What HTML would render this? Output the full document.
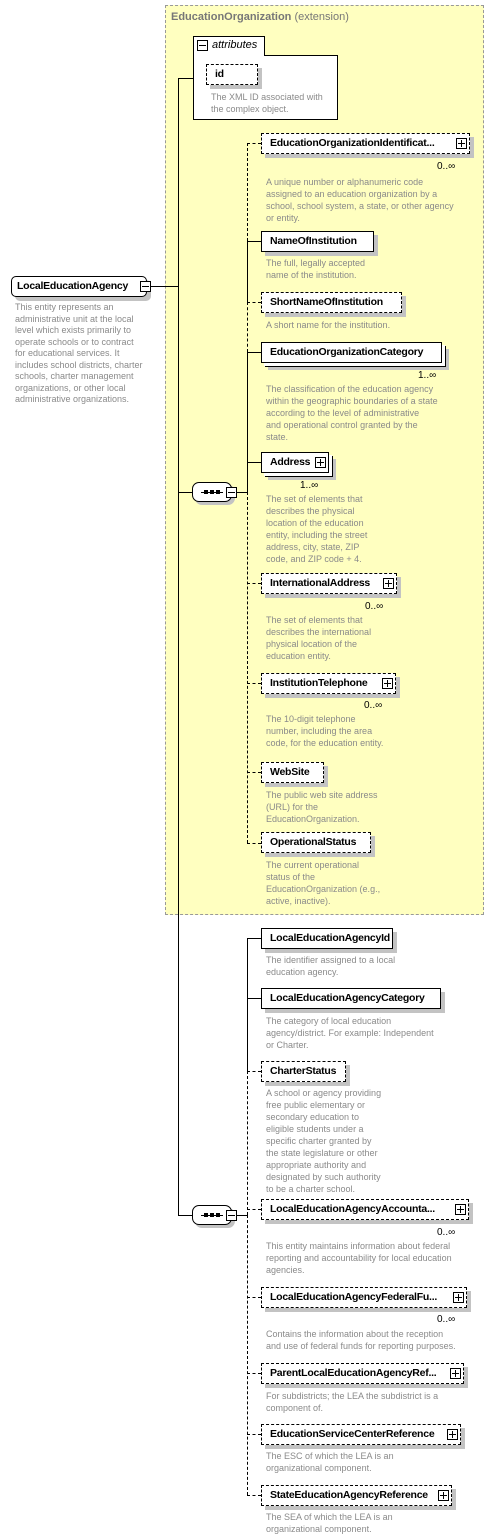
<!DOCTYPE html>
<html><head><meta charset="utf-8"><style>
*{margin:0;padding:0;box-sizing:border-box}
body{width:494px;height:1539px;background:#fff;position:relative;overflow:hidden;font-family:"Liberation Sans",sans-serif}
.a{position:absolute}
.el{position:absolute;height:21px;border:1px solid #000;background:#fff;box-shadow:4px 4px 0 #c3c3c3;font-size:10.5px;letter-spacing:-0.25px;font-weight:bold;line-height:19px;padding-left:8px;white-space:nowrap;color:#000}
.d{border-style:dashed}
.pl{position:absolute;right:2px;top:4px;width:11px;height:11px;border:1px solid #000;background:#fff}
.pl:before{content:"";position:absolute;left:1px;top:4px;width:7px;height:1px;background:#000}
.pl:after{content:"";position:absolute;left:4px;top:1px;width:1px;height:7px;background:#000}
.mi{position:absolute;width:11px;height:11px;border:1px solid #000;background:#fff}
.mi:before{content:"";position:absolute;left:1px;top:4px;width:7px;height:1px;background:#000}
.ds{position:absolute;font-size:9px;line-height:12px;color:#8a8a8a;white-space:nowrap}
.h{position:absolute;height:0;border-top:1px solid #000}
.hd{border-top-style:dashed}
.v{position:absolute;width:0;border-left:1px solid #000}
.vd{border-left-style:dashed}
.oc{position:absolute;font-size:10px;color:#000}
.seq{position:absolute;width:40px;height:20px;background:#fff;border:1px solid #000;border-radius:7px;box-shadow:3px 3px 0 #c3c3c3}
.seq i{position:absolute;left:8px;top:9px;width:22px;height:1px;background:#000}
.seq b{position:absolute;top:7px;width:4px;height:4px;background:#000}
</style></head><body>
<div class="a" style="left:165px;top:5px;width:319px;height:910px;background:#ffffc0;border:1px dashed #999"></div>
<div class="a" style="left:171px;top:11px;font-size:11px;color:#777"><b>EducationOrganization</b> (extension)</div>
<div class="a" style="left:193px;top:55px;width:145px;height:65px;border:1px solid #000;background:#fff"></div>
<div class="a" style="left:193px;top:36px;width:72px;height:20px;border:1px solid #000;border-bottom:none;background:#fff"></div>
<div class="mi" style="left:197px;top:40px"></div>
<div class="a" style="left:212px;top:39px;font-size:11px;font-style:italic">attributes</div>
<div class="el d" style="left:206px;top:64px;width:52px">id</div>
<div class="ds" style="left:211px;top:91px">The XML ID associated with<br>the complex object.</div>
<div class="el" style="left:11px;top:276px;width:136px;border-radius:5px;padding-left:5px">LocalEducationAgency</div>
<div class="mi" style="left:140px;top:281px"></div>
<div class="ds" style="left:15px;top:302px;line-height:11.5px">This entity represents an<br>administrative unit at the local<br>level which exists primarily to<br>operate schools or to contract<br>for educational services. It<br>includes school districts, charter<br>schools, charter management<br>organizations, or other local<br>administrative organizations.</div>
<div class="h" style="left:151px;top:286px;width:28px"></div>
<div class="v" style="left:178px;top:78px;height:1138px"></div>
<div class="h" style="left:178px;top:78px;width:15px"></div>
<div class="h" style="left:178px;top:492px;width:14px"></div>
<div class="h" style="left:178px;top:1215px;width:14px"></div>
<div class="seq" style="left:192px;top:482px"><i></i><b style="left:11px"></b><b style="left:17px"></b><b style="left:23px"></b></div>
<div class="mi" style="left:226px;top:487px"></div>
<div class="h" style="left:237px;top:492px;width:10px"></div>
<div class="seq" style="left:192px;top:1205px"><i></i><b style="left:11px"></b><b style="left:17px"></b><b style="left:23px"></b></div>
<div class="mi" style="left:226px;top:1210px"></div>
<div class="h" style="left:237px;top:1215px;width:10px"></div>

<div class="v vd" style="left:247px;top:143px;height:98px"></div>
<div class="v" style="left:247px;top:241px;height:61px"></div>
<div class="v vd" style="left:247px;top:302px;height:50px"></div>
<div class="v" style="left:247px;top:352px;height:140px"></div>
<div class="v vd" style="left:247px;top:492px;height:351px"></div>

<div class="h hd" style="left:247px;top:143px;width:14px"></div>
<div class="el d" style="left:261px;top:133px;width:209px">EducationOrganizationIdentificat...<span class="pl"></span></div>
<div class="oc" style="left:437px;top:161px">0..∞</div>
<div class="ds" style="left:266px;top:176px">A unique number or alphanumeric code<br>assigned to an education organization by a<br>school, school system, a state, or other agency<br>or entity.</div>

<div class="h" style="left:247px;top:241px;width:14px"></div>
<div class="el" style="left:261px;top:231px;width:113px">NameOfInstitution</div>
<div class="ds" style="left:266px;top:257px">The full, legally accepted<br>name of the institution.</div>

<div class="h hd" style="left:247px;top:302px;width:14px"></div>
<div class="el d" style="left:261px;top:292px;width:141px">ShortNameOfInstitution</div>
<div class="ds" style="left:266px;top:319px">A short name for the institution.</div>

<div class="h" style="left:247px;top:352px;width:14px"></div>
<div class="el" style="left:261px;top:342px;width:181px;box-shadow:3px 3px 0 #fff,4px 4px 0 #000,7px 7px 0 #c3c3c3">EducationOrganizationCategory</div>
<div class="oc" style="left:418px;top:370px">1..∞</div>
<div class="ds" style="left:266px;top:383px">The classification of the education agency<br>within the geographic boundaries of a state<br>according to the level of administrative<br>and operational control granted by the<br>state.</div>

<div class="h" style="left:247px;top:462px;width:14px"></div>
<div class="el" style="left:261px;top:452px;width:68px;box-shadow:3px 3px 0 #fff,4px 4px 0 #000,7px 7px 0 #c3c3c3">Address<span class="pl"></span></div>
<div class="oc" style="left:300px;top:480px">1..∞</div>
<div class="ds" style="left:266px;top:493px">The set of elements that<br>describes the physical<br>location of the education<br>entity, including the street<br>address, city, state, ZIP<br>code, and ZIP code + 4.</div>

<div class="h hd" style="left:247px;top:583px;width:14px"></div>
<div class="el d" style="left:261px;top:573px;width:136px">InternationalAddress<span class="pl"></span></div>
<div class="oc" style="left:365px;top:601px">0..∞</div>
<div class="ds" style="left:266px;top:614px">The set of elements that<br>describes the international<br>physical location of the<br>education entity.</div>

<div class="h hd" style="left:247px;top:683px;width:14px"></div>
<div class="el d" style="left:261px;top:673px;width:135px">InstitutionTelephone<span class="pl"></span></div>
<div class="oc" style="left:364px;top:700px">0..∞</div>
<div class="ds" style="left:266px;top:713px">The 10-digit telephone<br>number, including the area<br>code, for the education entity.</div>

<div class="h hd" style="left:247px;top:772px;width:14px"></div>
<div class="el d" style="left:261px;top:762px;width:63px">WebSite</div>
<div class="ds" style="left:266px;top:789px">The public web site address<br>(URL) for the<br>EducationOrganization.</div>

<div class="h hd" style="left:247px;top:843px;width:14px"></div>
<div class="el d" style="left:261px;top:832px;width:110px">OperationalStatus</div>
<div class="ds" style="left:266px;top:859px">The current operational<br>status of the<br>EducationOrganization (e.g.,<br>active, inactive).</div>

<div class="v" style="left:247px;top:938px;height:133px"></div>
<div class="v vd" style="left:247px;top:1071px;height:144px"></div>
<div class="v vd" style="left:247px;top:1215px;height:280px"></div>

<div class="h" style="left:247px;top:938px;width:14px"></div>
<div class="el" style="left:261px;top:928px;width:132px">LocalEducationAgencyId</div>
<div class="ds" style="left:266px;top:954px">The identifier assigned to a local<br>education agency.</div>

<div class="h" style="left:247px;top:998px;width:14px"></div>
<div class="el" style="left:261px;top:988px;width:180px">LocalEducationAgencyCategory</div>
<div class="ds" style="left:266px;top:1015px">The category of local education<br>agency/district. For example: Independent<br>or Charter.</div>

<div class="h hd" style="left:247px;top:1071px;width:14px"></div>
<div class="el d" style="left:261px;top:1061px;width:85px">CharterStatus</div>
<div class="ds" style="left:266px;top:1087px">A school or agency providing<br>free public elementary or<br>secondary education to<br>eligible students under a<br>specific charter granted by<br>the state legislature or other<br>appropriate authority and<br>designated by such authority<br>to be a charter school.</div>

<div class="h hd" style="left:247px;top:1209px;width:14px"></div>
<div class="el d" style="left:261px;top:1199px;width:208px">LocalEducationAgencyAccounta...<span class="pl"></span></div>
<div class="oc" style="left:437px;top:1227px">0..∞</div>
<div class="ds" style="left:266px;top:1240px">This entity maintains information about federal<br>reporting and accountability for local education<br>agencies.</div>

<div class="h hd" style="left:247px;top:1297px;width:14px"></div>
<div class="el d" style="left:261px;top:1287px;width:206px">LocalEducationAgencyFederalFu...<span class="pl"></span></div>
<div class="oc" style="left:437px;top:1314px">0..∞</div>
<div class="ds" style="left:266px;top:1328px">Contains the information about the reception<br>and use of federal funds for reporting purposes.</div>

<div class="h hd" style="left:247px;top:1373px;width:14px"></div>
<div class="el d" style="left:261px;top:1363px;width:203px">ParentLocalEducationAgencyRef...<span class="pl"></span></div>
<div class="ds" style="left:266px;top:1390px">For subdistricts; the LEA the subdistrict is a<br>component of.</div>

<div class="h hd" style="left:247px;top:1434px;width:14px"></div>
<div class="el d" style="left:261px;top:1424px;width:200px">EducationServiceCenterReference<span class="pl"></span></div>
<div class="ds" style="left:266px;top:1450px">The ESC of which the LEA is an<br>organizational component.</div>

<div class="h hd" style="left:247px;top:1495px;width:14px"></div>
<div class="el d" style="left:261px;top:1485px;width:191px">StateEducationAgencyReference<span class="pl"></span></div>
<div class="ds" style="left:266px;top:1511px">The SEA of which the LEA is an<br>organizational component.</div>
</body></html>
